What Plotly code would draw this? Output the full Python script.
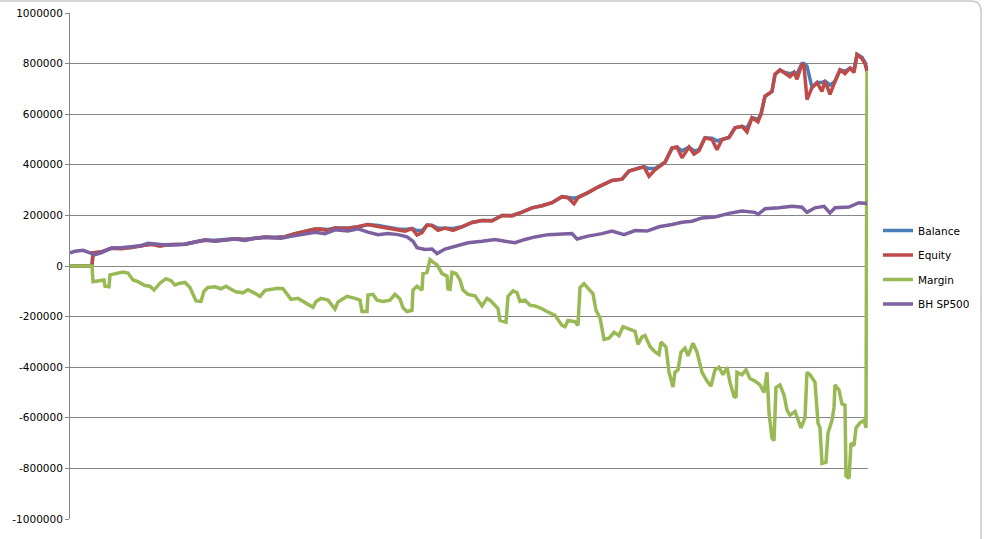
import plotly.graph_objects as go

# ---- data (x = bar index, y = account value) ----
eq_days = [0, 22, 23, 31, 41, 51, 61, 71, 81, 90, 95, 105, 115, 125, 135, 145, 155, 165, 175, 185,
           195, 205, 215, 225, 235, 245, 251, 258, 265, 278, 288, 298, 308, 318, 328, 335, 342, 347,
           352, 357, 362, 368, 375, 383, 392, 402, 412, 422, 432, 442, 452, 462, 472, 482, 492, 498,
           504, 508, 518, 528, 542, 552, 559, 569, 574, 579, 585, 595, 602, 607, 612, 619, 624, 629,
           635, 642, 647, 652, 659, 665, 672, 677, 682, 688, 691, 695, 702, 705, 710, 715, 720, 724,
           727, 732, 734, 737, 742, 747, 752, 755, 760, 765, 770, 775, 780, 784, 787, 792, 795, 797]
equity = [0, 0, 52000, 55000, 70000, 68000, 73000, 80000, 86000, 78000, 82000, 85000, 86000, 95000,
          102000, 99000, 105000, 108000, 104000, 111000, 115000, 112000, 116000, 128000, 138000,
          146000, 145000, 140000, 150000, 148000, 155000, 164000, 156000, 150000, 144000, 138000,
          148000, 122000, 132000, 162000, 160000, 141000, 150000, 141000, 155000, 172000, 180000,
          178000, 200000, 198000, 213000, 230000, 238000, 250000, 274000, 270000, 246000, 270000,
          290000, 312000, 338000, 343000, 375000, 388000, 392000, 355000, 380000, 410000, 466000,
          470000, 428000, 470000, 442000, 455000, 507000, 500000, 460000, 500000, 508000, 546000,
          552000, 530000, 586000, 570000, 600000, 671000, 690000, 757000, 775000, 762000, 748000,
          765000, 738000, 800000, 790000, 658000, 705000, 725000, 690000, 731000, 678000, 730000,
          775000, 760000, 782000, 765000, 836000, 820000, 800000, 770000]
balance = [0, 0, 52000, 55000, 70000, 70000, 73000, 80000, 86000, 84000, 84000, 85000, 86000, 95000,
           102000, 102000, 105000, 108000, 106000, 111000, 115000, 114000, 116000, 128000, 138000,
           146000, 146000, 144000, 150000, 150000, 155000, 164000, 160000, 152000, 146000, 144000,
           148000, 140000, 140000, 162000, 160000, 150000, 150000, 148000, 155000, 172000, 180000,
           180000, 200000, 200000, 213000, 230000, 238000, 250000, 274000, 272000, 268000, 272000,
           290000, 312000, 338000, 343000, 375000, 388000, 392000, 385000, 385000, 410000, 466000,
           470000, 455000, 470000, 455000, 460000, 507000, 505000, 495000, 500000, 508000, 546000,
           552000, 545000, 586000, 580000, 600000, 671000, 690000, 757000, 775000, 765000, 760000,
           765000, 760000, 800000, 800000, 790000, 705000, 725000, 725000, 731000, 715000, 730000,
           775000, 770000, 782000, 775000, 836000, 825000, 805000, 775000]

mg_days = [0, 22, 23, 31, 34, 35, 39, 40, 48, 53, 58, 63, 68, 75, 80, 84, 90, 96, 101, 105, 110, 115,
           120, 126, 131, 134, 138, 145, 151, 156, 161, 166, 173, 178, 185, 190, 195, 201, 208, 213,
           218, 221, 228, 233, 238, 243, 246, 251, 258, 261, 265, 268, 277, 285, 290, 292, 297, 298,
           303, 307, 313, 320, 325, 330, 333, 337, 342, 343, 347, 352, 353, 357, 360, 363, 367, 372,
           377, 378, 380, 382, 386, 390, 393, 398, 405, 412, 417, 420, 425, 428, 430, 436, 438, 443,
           447, 450, 455, 460, 465, 470, 477, 485, 492, 495, 498, 505, 508, 510, 514, 520, 523, 526,
           530, 534, 539, 544, 549, 553, 559, 565, 568, 572, 575, 580, 585, 589, 591, 596, 599, 603,
           605, 608, 611, 615, 618, 623, 627, 632, 637, 641, 645, 649, 653, 657, 660, 664, 666, 667,
           672, 676, 680, 685, 690, 694, 697, 699, 702, 704, 706, 710, 714, 717, 720, 725, 731, 735,
           737, 740, 745, 748, 750, 752, 756, 758, 762, 764, 765, 769, 772, 775, 776, 779, 781, 784,
           786, 790, 794, 796, 797]
margin = [0, 0, -62000, -58000, -55000, -80000, -82000, -35000, -30000, -24000, -28000, -55000,
          -62000, -77000, -80000, -95000, -68000, -50000, -58000, -75000, -68000, -65000, -85000,
          -138000, -140000, -100000, -85000, -82000, -90000, -80000, -92000, -102000, -106000,
          -94000, -108000, -120000, -96000, -92000, -88000, -90000, -115000, -132000, -128000,
          -140000, -152000, -163000, -140000, -128000, -135000, -150000, -170000, -142000, -120000,
          -128000, -135000, -180000, -180000, -115000, -112000, -135000, -140000, -135000, -112000,
          -130000, -165000, -180000, -175000, -95000, -80000, -95000, -30000, -25000, 25000, 15000,
          5000, -30000, -40000, -90000, -92000, -25000, -30000, -55000, -95000, -112000, -118000,
          -158000, -128000, -135000, -155000, -168000, -215000, -222000, -120000, -98000, -105000,
          -140000, -135000, -155000, -158000, -165000, -180000, -195000, -235000, -240000, -215000,
          -220000, -235000, -85000, -70000, -95000, -110000, -175000, -205000, -290000, -285000,
          -262000, -275000, -240000, -250000, -258000, -310000, -280000, -275000, -318000, -340000,
          -350000, -300000, -320000, -420000, -478000, -420000, -410000, -340000, -325000, -355000,
          -305000, -340000, -420000, -455000, -475000, -410000, -400000, -430000, -400000, -460000,
          -515000, -520000, -420000, -430000, -410000, -445000, -455000, -470000, -500000, -420000,
          -580000, -680000, -690000, -480000, -470000, -510000, -570000, -590000, -575000, -640000,
          -600000, -420000, -430000, -460000, -620000, -640000, -780000, -775000, -660000, -610000,
          -560000, -470000, -490000, -545000, -550000, -830000, -840000, -700000, -710000, -640000,
          -620000, -610000, -640000, 770000]

bh_days = [0, 5, 13, 20, 25, 31, 41, 51, 61, 71, 78, 85, 95, 105, 115, 125, 135, 145, 155, 165, 175,
           185, 198, 211, 221, 231, 245, 255, 265, 278, 288, 298, 308, 318, 328, 337, 343, 347, 355,
           362, 367, 375, 385, 398, 412, 425, 435, 445, 455, 465, 478, 492, 502, 507, 518, 532, 542,
           554, 565, 577, 589, 602, 612, 622, 632, 645, 659, 672, 685, 688, 695, 709, 722, 732, 737,
           745, 754, 760, 765, 779, 789, 797]
bh_sp500 = [52000, 58000, 62000, 54000, 45000, 52000, 70000, 72000, 75000, 80000, 90000, 86000,
            83000, 84000, 86000, 95000, 104000, 98000, 104000, 107000, 101000, 110000, 113000,
            110000, 117000, 124000, 133000, 128000, 143000, 138000, 147000, 134000, 124000, 128000,
            124000, 115000, 98000, 72000, 65000, 67000, 49000, 67000, 78000, 92000, 98000, 105000,
            98000, 92000, 105000, 115000, 124000, 128000, 128000, 107000, 118000, 128000, 138000,
            124000, 140000, 138000, 155000, 164000, 173000, 177000, 190000, 194000, 208000, 217000,
            212000, 204000, 226000, 230000, 236000, 232000, 212000, 230000, 236000, 210000, 230000,
            233000, 250000, 247000]

y_ticks = [1000000, 800000, 600000, 400000, 200000, 0, -200000, -400000, -600000, -800000, -1000000]

series = [
    ("Balance", eq_days, balance, "#4a7ebb"),
    ("Equity", eq_days, equity, "#be4b48"),
    ("Margin", mg_days, margin, "#98b954"),
    ("BH SP500", bh_days, bh_sp500, "#7d60a0"),
]

fig = go.Figure()
for name, xs, ys, col in series:
    fig.add_trace(go.Scatter(x=xs, y=ys, name=name, mode="lines", legendgroup=name,
                             line=dict(color=col, width=3.5)))

W, H = 985, 539
L, R, T, B = 70, 117, 13, 20
pw, ph = W - L - R, H - T - B

def px2paper(x, y):
    return (x - L) / pw, (H - B - y) / ph

# rounded chart-area border (right edge + top-right corner fall in view)
x0, y0 = px2paper(-20, 1)
x1, y1 = px2paper(981, 560)
rx, ry = 10 / pw, 10 / ph
path = (f"M {x0+rx},{y0} L {x1-rx},{y0} Q {x1},{y0} {x1},{y0-ry} L {x1},{y1+ry} "
        f"Q {x1},{y1} {x1-rx},{y1} L {x0+rx},{y1} Q {x0},{y1} {x0},{y1+ry} "
        f"L {x0},{y0-ry} Q {x0},{y0} {x0+rx},{y0} Z")
lx, ly = px2paper(878, 216)

fig.update_layout(
    width=W, height=H,
    margin=dict(l=L, r=R, t=T, b=B, autoexpand=False),
    paper_bgcolor="white", plot_bgcolor="white",
    font=dict(family="DejaVu Sans, Verdana, sans-serif", size=10.5, color="#000000"),
    showlegend=True,
    legend=dict(x=lx, y=ly, xanchor="left", yanchor="top", bgcolor="rgba(0,0,0,0)",
                font=dict(size=10.5), tracegroupgap=5.5),
    xaxis=dict(range=[0, 798], showgrid=False, showticklabels=False, zeroline=False,
               showline=False, ticks="", automargin=False),
    yaxis=dict(range=[-1000001, 1000001], tickvals=y_ticks, ticktext=[str(v) for v in y_ticks],
               showgrid=True, gridcolor="#868686", gridwidth=1, zeroline=False,
               showline=True, linecolor="#868686", linewidth=1, automargin=False,
               ticks="outside", ticklen=4, tickcolor="#868686", ticklabeloverflow="allow"),
    shapes=[dict(type="path", path=path, xref="paper", yref="paper",
                 line=dict(color="#c8c8c8", width=1.5), layer="below")],
)
fig.write_html("out.html", config={"displayModeBar": False},
               post_script="document.body.style.margin='0';document.body.style.overflow='hidden';")
